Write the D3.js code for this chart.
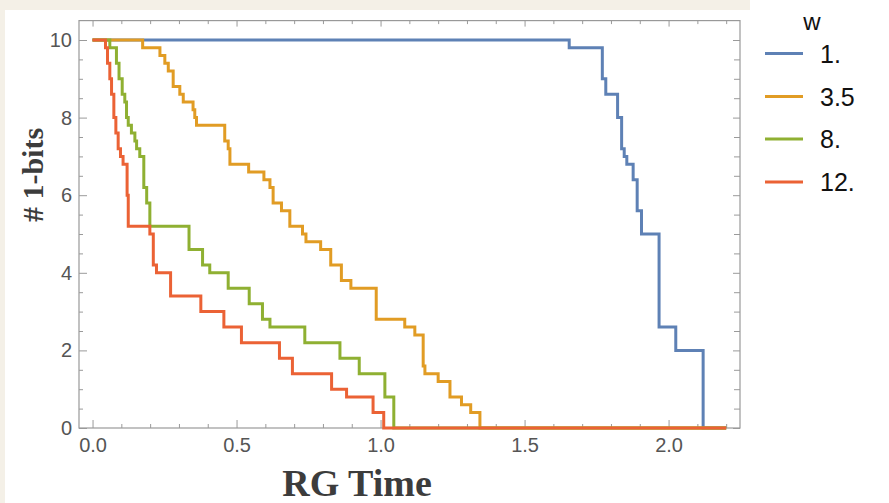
<!DOCTYPE html>
<html>
<head>
<meta charset="utf-8">
<script src="https://cdn.jsdelivr.net/npm/d3@7"></script>
<style>
  body { margin: 0; background: #f4f0e7; }
  svg { display: block; }
</style>
</head>
<body>
<script>
// step data: [RG time, number of 1-bits] -- value holds until next point
const w1 = [[0,10],[1.655,9.8],[1.770,9.0],[1.782,8.6],[1.823,8.0],[1.837,7.2],[1.846,7.0],[1.855,6.8],
  [1.877,6.4],[1.891,5.6],[1.906,5.0],[1.967,2.6],[2.025,2.0],[2.120,0],[2.2,0]];
const w35 = [[0,10],[0.174,9.8],[0.234,9.6],[0.251,9.4],[0.263,9.2],[0.280,8.8],[0.303,8.6],[0.315,8.4],
  [0.349,8.2],[0.355,8.0],[0.361,7.8],[0.459,7.4],[0.471,7.2],[0.477,6.8],[0.542,6.6],[0.595,6.4],
  [0.616,6.2],[0.627,5.8],[0.656,5.6],[0.685,5.2],[0.729,5.0],[0.741,4.8],[0.792,4.6],[0.827,4.2],
  [0.864,3.8],[0.897,3.6],[0.985,2.8],[1.084,2.6],[1.119,2.4],[1.148,1.6],[1.154,1.4],[1.200,1.2],
  [1.241,0.8],[1.281,0.6],[1.313,0.4],[1.345,0],[2.2,0]];
const w8 = [[0,10],[0.060,9.8],[0.083,9.4],[0.092,9.0],[0.103,8.6],[0.112,8.4],[0.118,8.0],[0.124,7.8],
  [0.135,7.6],[0.147,7.4],[0.153,7.2],[0.164,7.0],[0.178,6.2],[0.188,5.8],[0.199,5.2],[0.335,4.6],
  [0.382,4.2],[0.407,4.0],[0.471,3.6],[0.544,3.2],[0.590,2.8],[0.616,2.6],[0.737,2.2],[0.859,1.8],
  [0.926,1.4],[1.015,0.8],[1.046,0],[2.2,0]];
const w12 = [[0,10],[0.045,9.8],[0.052,9.4],[0.060,9.0],[0.066,8.6],[0.074,8.0],[0.081,7.6],[0.089,7.2],
  [0.097,7.0],[0.106,6.8],[0.120,6.0],[0.124,5.2],[0.199,5.0],[0.211,4.2],[0.222,4.0],[0.271,3.4],
  [0.376,3.0],[0.456,2.6],[0.517,2.2],[0.649,1.8],[0.694,1.4],[0.830,1.0],[0.882,0.8],[0.974,0.4],
  [1.011,0],[2.2,0]];

const legendLabels = ["1.", "3.5", "8.", "12."];
const colors = ["#5e81b5", "#e19c24", "#8fb032", "#eb6235"];
const xMajor = [0, 0.5, 1.0, 1.5, 2.0];
const yMajor = [0, 2, 4, 6, 8, 10];

let w = 889;
let h = 503;
let pLeft = 79, pRight = 740, pTop = 20.6, pBottom = 428;

let svg = d3.select("body").append("svg").attr("width", w).attr("height", h);

// white panel on the paper background
svg.append("rect").attr("x", 5).attr("y", 10).attr("width", w - 5).attr("height", h - 10).attr("fill", "#fff");
svg.append("rect").attr("x", 750).attr("y", 0).attr("width", w - 750).attr("height", 12).attr("fill", "#fff");

let xScale = d3.scaleLinear().domain([-0.047, 2.248]).range([pLeft, pRight]);
let yScale = d3.scaleLinear().domain([0, 10.5]).range([pBottom, pTop]);

const xMinor = d3.range(0, 2.25, 0.1).map(d => +d.toFixed(1)).filter(d => !xMajor.includes(d));
const yMinor = d3.range(0, 10.5, 0.5).filter(d => !yMajor.includes(d));

const tickColor = "#9a9a9a";
const labelColor = "#555";

function styleAxis(g) {
  g.select(".domain").remove();
  g.selectAll(".tick line").attr("stroke", tickColor);
  g.selectAll(".tick text")
    .attr("fill", labelColor)
    .attr("font-family", "'Liberation Sans', Arial, sans-serif")
    .attr("font-size", "20px");
}

// bottom axis
svg.append("g").attr("transform", "translate(0," + pBottom + ")")
  .call(d3.axisBottom(xScale).tickValues(xMajor).tickSize(-8).tickPadding(10).tickFormat(d3.format(".1f")))
  .call(styleAxis);
svg.append("g").attr("transform", "translate(0," + pBottom + ")")
  .call(d3.axisBottom(xScale).tickValues(xMinor).tickSize(-4).tickFormat(""))
  .call(styleAxis);
// top axis
svg.append("g").attr("transform", "translate(0," + pTop + ")")
  .call(d3.axisTop(xScale).tickValues(xMajor).tickSize(-6).tickFormat(""))
  .call(styleAxis);
svg.append("g").attr("transform", "translate(0," + pTop + ")")
  .call(d3.axisTop(xScale).tickValues(xMinor).tickSize(-3.5).tickFormat(""))
  .call(styleAxis);
// left axis
svg.append("g").attr("transform", "translate(" + pLeft + ",0)")
  .call(d3.axisLeft(yScale).tickValues(yMajor).tickSize(-8).tickPadding(7))
  .call(styleAxis);
svg.append("g").attr("transform", "translate(" + pLeft + ",0)")
  .call(d3.axisLeft(yScale).tickValues(yMinor).tickSize(-4).tickFormat(""))
  .call(styleAxis);
// right axis
svg.append("g").attr("transform", "translate(" + pRight + ",0)")
  .call(d3.axisRight(yScale).tickValues(yMajor).tickSize(-7).tickFormat(""))
  .call(styleAxis);
svg.append("g").attr("transform", "translate(" + pRight + ",0)")
  .call(d3.axisRight(yScale).tickValues(yMinor).tickSize(-6).tickFormat(""))
  .call(styleAxis);

// frame
svg.append("rect")
  .attr("x", pLeft).attr("y", pTop)
  .attr("width", pRight - pLeft).attr("height", pBottom - pTop)
  .attr("fill", "none").attr("stroke", "#999").attr("stroke-width", 1.2);

const line = d3.line()
  .x(d => xScale(d[0]))
  .y(d => yScale(d[1]))
  .curve(d3.curveStepAfter);

[w1, w35, w8, w12].forEach((s, i) => {
  svg.append("path")
    .datum(s)
    .attr("d", line)
    .attr("fill", "none")
    .attr("stroke", colors[i])
    .attr("stroke-width", 3);
});

// axis labels
svg.append("text")
  .attr("x", 357)
  .attr("y", 496)
  .attr("text-anchor", "middle")
  .attr("font-family", "'Liberation Serif', serif")
  .attr("font-weight", "bold")
  .attr("font-size", "38px")
  .attr("fill", "#3c3c3c")
  .text("RG Time");

svg.append("text")
  .attr("transform", "translate(43,175) rotate(-90)")
  .attr("text-anchor", "middle")
  .attr("font-family", "'Liberation Serif', serif")
  .attr("font-weight", "bold")
  .attr("font-size", "30px")
  .attr("fill", "#3c3c3c")
  .text("# 1-bits");

// legend
let legend = svg.append("g");
legend.append("text")
  .attr("x", 812).attr("y", 30)
  .attr("text-anchor", "middle")
  .attr("font-family", "'Liberation Sans', Arial, sans-serif")
  .attr("font-size", "24px")
  .attr("fill", "#111")
  .text("w");

const legendY = [53.5, 96.5, 139, 182];
legendLabels.forEach((lab, i) => {
  legend.append("line")
    .attr("x1", 765).attr("x2", 803)
    .attr("y1", legendY[i]).attr("y2", legendY[i])
    .attr("stroke", colors[i]).attr("stroke-width", 3);
  legend.append("text")
    .attr("x", 820).attr("y", legendY[i] + 9)
    .attr("font-family", "'Liberation Sans', Arial, sans-serif")
    .attr("font-size", "25px")
    .attr("fill", "#111")
    .text(lab);
});
</script>
</body>
</html>
